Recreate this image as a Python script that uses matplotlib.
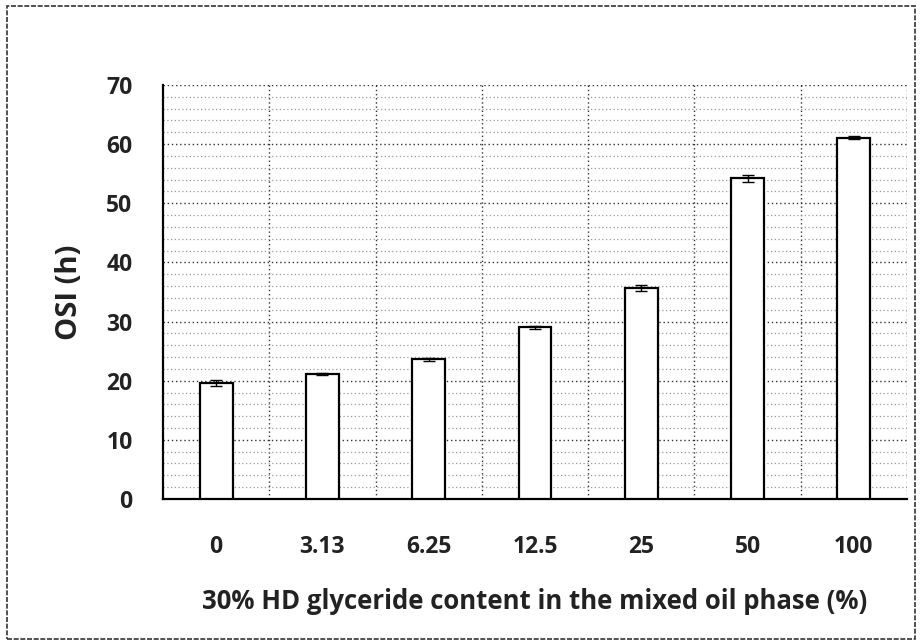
import numpy as np
import matplotlib; matplotlib.use("Agg"); import matplotlib.pyplot as plt
from matplotlib.patches import Rectangle

# data
labels = ["0", "3.13", "6.25", "12.5", "25", "50", "100"]
osi = [19.6, 21.1, 23.6, 29.0, 35.6, 54.2, 61.1]
err = [0.5, 0.2, 0.3, 0.2, 0.5, 0.6, 0.2]

plt.rcParams["font.family"] = ["Open Sans", "DejaVu Sans"]

fig = plt.figure(figsize=(9.22, 6.44), dpi=100)
ax = fig.add_axes([0.1768, 0.2252, 0.8069, 0.6428])

x = np.arange(len(labels)) + 0.5
ax.bar(x, osi, width=0.31, color="white", edgecolor="black", linewidth=1.6, zorder=3)
ax.errorbar(x, osi, yerr=err, fmt="none", ecolor="black", elinewidth=1, capsize=4, capthick=1, zorder=4)

ax.set_xlim(0, len(labels))
ax.set_ylim(0, 70)
ax.set_yticks(np.arange(0, 71, 10))
ax.set_yticks(np.arange(0, 71, 2), minor=True)
ax.set_xticks(x)
ax.set_xticklabels(labels)
ax.set_xticks(np.arange(1, len(labels) + 1), minor=True)

ax.grid(axis="y", which="major", ls=(0, (1, 2)), color="#333333", lw=1, zorder=0)
ax.grid(axis="y", which="minor", ls=(0, (1, 2)), color="#999999", lw=0.9, zorder=0)
ax.grid(axis="x", which="minor", ls=(0, (1, 2)), color="#333333", lw=1, zorder=0)
ax.grid(axis="x", which="major", visible=False)

for s in ["top", "right"]:
    ax.spines[s].set_visible(False)
ax.spines["left"].set_linewidth(1.6)
ax.spines["bottom"].set_linewidth(1.6)
ax.tick_params(which="both", length=0)
ax.tick_params(axis="y", pad=22, labelsize=16.5)
ax.tick_params(axis="x", pad=26, labelsize=16.5)
for t in ax.get_xticklabels() + ax.get_yticklabels():
    t.set_fontweight("bold")
    t.set_color("#222222")

ax.set_ylabel("OSI (h)", fontsize=21, fontweight="bold", labelpad=16, color="#222222")
ax.set_xlabel("30% HD glyceride content in the mixed oil phase (%)", fontsize=18.5,
              fontweight="bold", labelpad=21, color="#222222")

# dashed frame around the whole figure
fig.patches.append(Rectangle((0.008, 0.008), 0.984, 0.982, transform=fig.transFigure,
                             fill=False, ls=(0, (3, 1)), lw=1.2, edgecolor="#333333"))

fig.savefig("out.png", dpi=100)
plt.close(fig)
